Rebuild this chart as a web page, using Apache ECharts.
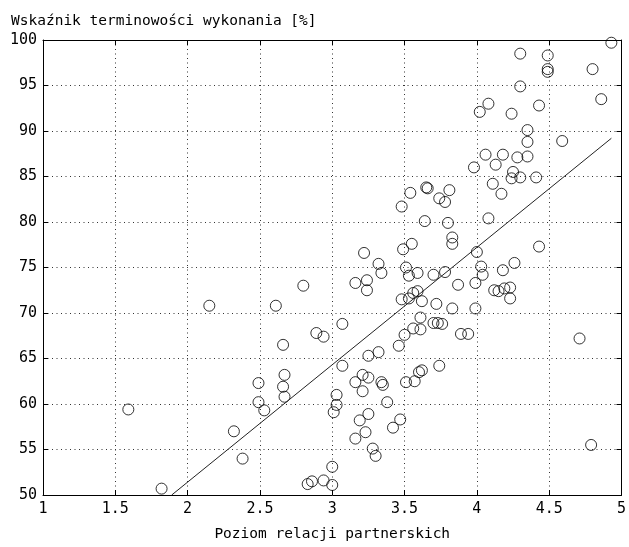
<!DOCTYPE html>
<html>
<head>
<meta charset="utf-8">
<script src="https://cdn.jsdelivr.net/npm/echarts@6/dist/echarts.min.js"></script>
<style>html,body{margin:0;padding:0;background:#fff;overflow:hidden;}#c{width:629px;height:547px;}</style>
</head>
<body>
<div id="c"></div>
<script>
var titleText = 'Wskaźnik terminowości wykonania [%]';
var xName = 'Poziom relacji partnerskich';
var xTicks = [1, 1.5, 2, 2.5, 3, 3.5, 4, 4.5, 5];
var yTicks = [50, 55, 60, 65, 70, 75, 80, 85, 90, 95, 100];

var pointsX = [
  2.15,1.59,1.82,
  2.80,2.61,3.16,3.24,3.24,3.07,2.89,2.94,2.66,3.07,3.25,3.32,3.46,3.50,3.56,3.61,3.61,3.62,3.48,3.53,3.56,3.59,
  2.49,2.67,2.66,2.67,2.49,2.53,2.32,2.38,3.03,3.03,3.01,3.16,3.21,3.25,3.21,3.34,3.35,3.38,3.25,3.19,3.23,3.16,
  3.47,3.42,3.28,3.30,3.00,2.83,2.86,2.94,3.00,3.51,3.57,3.60,3.62,
  3.87,3.99,4.12,4.15,4.19,4.23,4.23,3.72,3.83,3.99,3.70,3.73,3.76,3.89,3.94,4.71,3.74,4.79,
  4.93,4.30,4.49,4.49,4.49,4.80,4.30,4.86,4.08,4.02,4.24,4.43,4.35,4.35,4.59,4.06,4.18,4.28,4.35,4.13,3.98,
  4.25,4.24,4.30,4.41,4.11,4.17,3.66,3.81,3.74,3.78,4.08,3.64,3.80,3.83,3.83,4.43,4.00,4.03,4.04,4.26,4.18,
  3.78,3.70,3.59,
  3.54,3.65,3.48,3.22,3.32,3.34,3.49,3.55,3.51,3.53
];
var pointsY = [
  70.8,59.4,50.7,
  73.0,70.8,73.3,73.6,72.5,68.8,67.8,67.4,66.5,64.2,65.3,65.7,66.4,67.6,68.3,68.2,69.5,71.3,71.5,71.6,72.2,72.4,
  62.3,63.2,61.9,60.8,60.2,59.3,57.0,54.0,61.0,59.9,59.1,62.4,63.2,62.9,61.4,62.4,62.1,60.2,58.9,58.2,56.9,56.2,
  58.3,57.4,55.1,54.3,53.1,51.2,51.5,51.6,51.1,62.4,62.5,63.5,63.7,
  73.1,73.3,72.5,72.4,72.7,72.8,71.6,71.0,70.5,70.5,68.9,68.9,68.8,67.7,67.7,67.2,64.2,55.5,
  99.7,98.5,98.3,96.8,96.5,96.8,94.9,93.5,93.0,92.1,91.9,92.8,90.1,88.8,88.9,87.4,87.4,87.1,87.2,86.3,86.0,
  85.5,84.8,84.9,84.9,84.2,83.1,83.7,83.5,82.6,82.2,80.4,80.1,79.9,78.3,77.6,77.3,76.7,75.1,74.2,75.5,74.7,
  74.5,74.2,74.4,
  83.2,83.8,81.7,76.6,75.4,74.4,77.0,77.6,75.0,74.1
];
var trendX = [1.89, 4.93];
var trendY = [50.0, 89.2];

var pts = pointsX.map(function (x, i) { return [x, pointsY[i]]; });
var line = trendX.map(function (x, i) { return [x, trendY[i]]; });

var FONT = 'DejaVu Sans Mono';
var chart = echarts.init(document.getElementById('c'), null, {renderer: 'canvas'});
var xBase = {
  type: 'value', min: xTicks[0], max: xTicks[xTicks.length - 1], interval: 0.5,
  axisLine: {show: true, lineStyle: {color: '#000', width: 1}},
  axisTick: {show: true, inside: true, length: 5, lineStyle: {color: '#000'}}
};
var yBase = {
  type: 'value', min: yTicks[0], max: yTicks[yTicks.length - 1], interval: 5,
  axisLine: {show: true, lineStyle: {color: '#000', width: 1}},
  axisTick: {show: true, inside: true, length: 5, lineStyle: {color: '#000'}}
};
chart.setOption({
  animation: false,
  backgroundColor: '#fff',
  title: {
    text: titleText, left: 6, top: 9,
    textStyle: {fontFamily: FONT, fontSize: 14.5, fontWeight: 'normal', color: '#000'}
  },
  grid: {left: 43, right: 3, top: 40, bottom: 46, containLabel: false},
  xAxis: [
    Object.assign({}, xBase, {
      position: 'bottom',
      name: xName, nameLocation: 'middle', nameGap: 32,
      nameTextStyle: {fontFamily: FONT, fontSize: 14.5, color: '#000'},
      axisLabel: {fontFamily: FONT, fontSize: 15, color: '#000', margin: 7,
        formatter: function (v) { return String(v); }},
      splitLine: {show: true, lineStyle: {color: '#333', type: [1, 3.5], width: 1}}
    }),
    Object.assign({}, xBase, {position: 'top', axisLabel: {show: false}, splitLine: {show: false}})
  ],
  yAxis: [
    Object.assign({}, yBase, {
      position: 'left',
      axisLabel: {fontFamily: FONT, fontSize: 15, color: '#000', margin: 6},
      splitLine: {show: true, lineStyle: {color: '#333', type: [1, 3.5], width: 1}}
    }),
    Object.assign({}, yBase, {position: 'right', axisLabel: {show: false}, splitLine: {show: false}})
  ],
  series: [
    {
      type: 'scatter', data: pts, symbol: 'circle', symbolSize: 11,
      itemStyle: {color: 'rgba(0,0,0,0)', borderColor: '#000', borderWidth: 1},
      emphasis: {disabled: true}
    },
    {
      type: 'line', data: line, showSymbol: false, symbol: 'none',
      lineStyle: {color: '#222', width: 1}, emphasis: {disabled: true}
    }
  ]
});
</script>
</body>
</html>
